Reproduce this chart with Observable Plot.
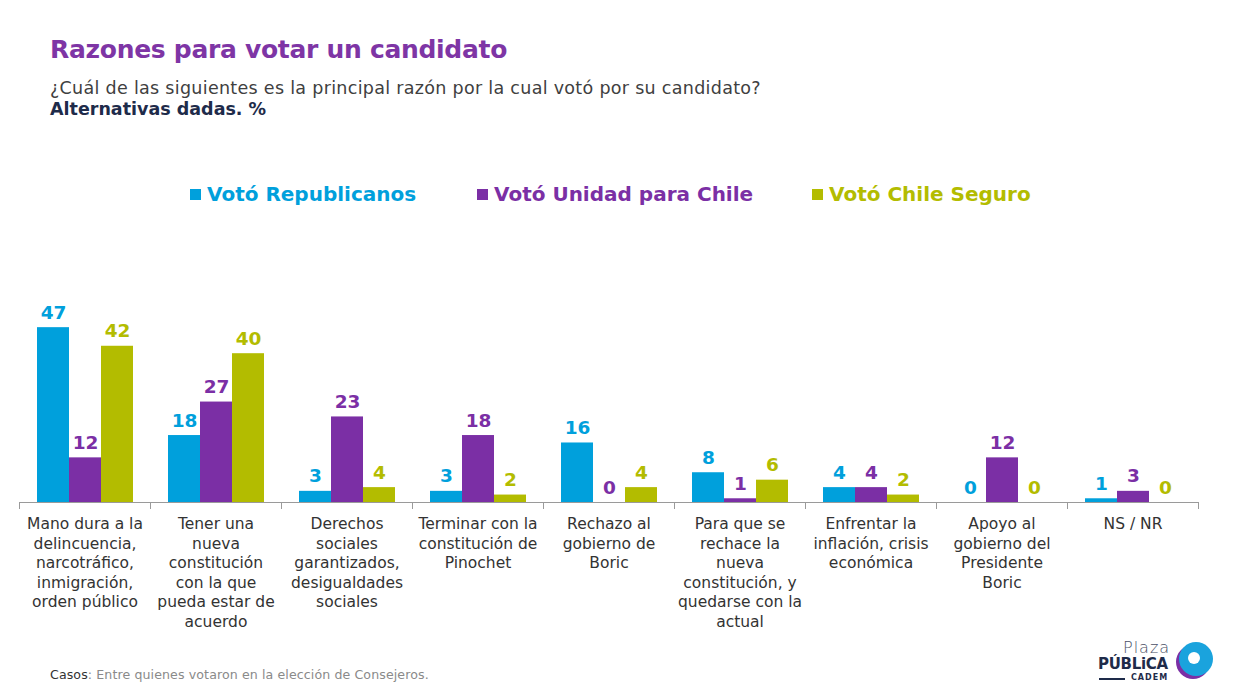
<!DOCTYPE html>
<html>
<head>
<meta charset="utf-8">
<script src="https://cdn.jsdelivr.net/npm/d3@7"></script>
<script src="https://cdn.jsdelivr.net/npm/@observablehq/plot@0.6"></script>
<style>
  html, body { margin: 0; padding: 0; background: #fff; }
  body { width: 1234px; height: 697px; position: relative; overflow: hidden; font-family: "DejaVu Sans", sans-serif; }
  .abs { position: absolute; white-space: nowrap; }
  #title { left: 50px; top: 35px; font-size: 25px; font-weight: bold; color: #7E35A5; letter-spacing: -0.3px; }
  #sub { left: 50px; top: 78px; font-size: 17.5px; color: #404040; letter-spacing: 0.3px; }
  #sub2 { left: 50px; top: 99px; font-size: 17.5px; font-weight: bold; color: #1E2B4A; }
  .leg { top: 182px; font-size: 20px; font-weight: bold; display: flex; align-items: center; }
  .sw { width: 11px; height: 11px; margin-right: 6px; display: inline-block; }
  #chart { left: 0; top: 290px; }
  #foot { left: 50px; top: 667px; font-size: 12.6px; color: #8a8a8a; letter-spacing: 0.1px; }
  #foot b { color: #333; font-weight: normal; }
</style>
</head>
<body>
<div id="title" class="abs">Razones para votar un candidato</div>
<div id="sub" class="abs">¿Cuál de las siguientes es la principal razón por la cual votó por su candidato?</div>
<div id="sub2" class="abs">Alternativas dadas. %</div>
<div id="legend"></div>
<div id="chart" class="abs"></div>
<div id="foot" class="abs"><b>Casos</b>: Entre quienes votaron en la elección de Consejeros.</div>
<div id="logo">
  <div class="abs" style="left:1123px;top:638px;font-size:16px;color:#4a5066;font-weight:300;letter-spacing:1px;">Plaza</div>
  <div class="abs" style="left:1098px;top:655px;font-size:15px;color:#1E2B4A;font-weight:bold;letter-spacing:-0.3px;">PÚBLiCA</div>
  <div class="abs" style="left:1099px;top:678px;width:26px;height:2px;background:#1E2B4A;"></div>
  <div class="abs" style="left:1131px;top:673px;font-size:8px;color:#1E2B4A;font-weight:bold;letter-spacing:1px;">CADEM</div>
  <div class="abs" style="left:1176px;top:645px;width:34px;height:34px;border-radius:50%;background:#7B2FA5;"></div>
  <div class="abs" style="left:1179px;top:642px;width:34px;height:34px;border-radius:50%;background:#1AA3DD;"></div>
  <div class="abs" style="left:1188px;top:652px;width:12px;height:12px;border-radius:50%;background:#fff;"></div>
</div>
<script>
const categories = [
  "Mano dura a la\ndelincuencia,\nnarcotráfico,\ninmigración,\norden público",
  "Tener una\nnueva\nconstitución\ncon la que\npueda estar de\nacuerdo",
  "Derechos\nsociales\ngarantizados,\ndesigualdades\nsociales",
  "Terminar con la\nconstitución de\nPinochet",
  "Rechazo al\ngobierno de\nBoric",
  "Para que se\nrechace la\nnueva\nconstitución, y\nquedarse con la\nactual",
  "Enfrentar la\ninflación, crisis\neconómica",
  "Apoyo al\ngobierno del\nPresidente\nBoric",
  "NS / NR"
];
const series = ["Votó Republicanos", "Votó Unidad para Chile", "Votó Chile Seguro"];
const colors = ["#00A0DC", "#7B2FA5", "#B3BC00"];
const republicanos = [47, 18, 3, 3, 16, 8, 4, 0, 1];
const unidadParaChile = [12, 27, 23, 18, 0, 1, 4, 12, 3];
const chileSeguro = [42, 40, 4, 2, 4, 6, 2, 0, 0];
const values = [republicanos, unidadParaChile, chileSeguro];

const data = categories.flatMap((c, i) =>
  series.map((s, j) => ({category: c, series: s, value: values[j][i]})));

// legend
const legendX = [190, 477, 812];
const legend = document.getElementById("legend");
series.forEach((s, j) => {
  const d = document.createElement("div");
  d.className = "abs leg";
  d.style.left = legendX[j] + "px";
  d.style.color = colors[j];
  d.innerHTML = `<span class="sw" style="background:${colors[j]}"></span>${s}`;
  legend.appendChild(d);
});

const font = "DejaVu Sans, sans-serif";
const chart = Plot.plot({
  width: 1234,
  height: 350,
  marginLeft: 19,
  marginRight: 36,
  marginTop: 26,
  marginBottom: 138,
  style: {fontFamily: font, background: "transparent"},
  fx: {domain: categories, padding: 0, label: null},
  x: {domain: series, paddingInner: 0, paddingOuter: 0.5, axis: null},
  y: {domain: [0, 50], axis: null},
  color: {domain: series, range: colors},
  marks: [
    Plot.barY(data, {fx: "category", x: "series", y: "value", fill: "series"}),
    Plot.ruleY([0], {stroke: "#9a9a9a", strokeWidth: 1}),
    Plot.frame({anchor: "left", insetTop: 186, insetBottom: -6, stroke: "#9a9a9a"}),
    Plot.frame({anchor: "right", insetTop: 186, insetBottom: -6, stroke: "#9a9a9a"}),
    Plot.text(data, {fx: "category", x: "series", y: "value", text: d => String(d.value),
      fill: "series", fontWeight: "bold", fontSize: 18.5, lineAnchor: "bottom", dy: -9}),
    Plot.axisFx({anchor: "bottom", tickSize: 0, tickPadding: 13, fontSize: 15.5, lineHeight: 1.26,
      fill: "#333", label: null, textOverflow: null})
  ]
});
document.getElementById("chart").appendChild(chart);
</script>
</body>
</html>
